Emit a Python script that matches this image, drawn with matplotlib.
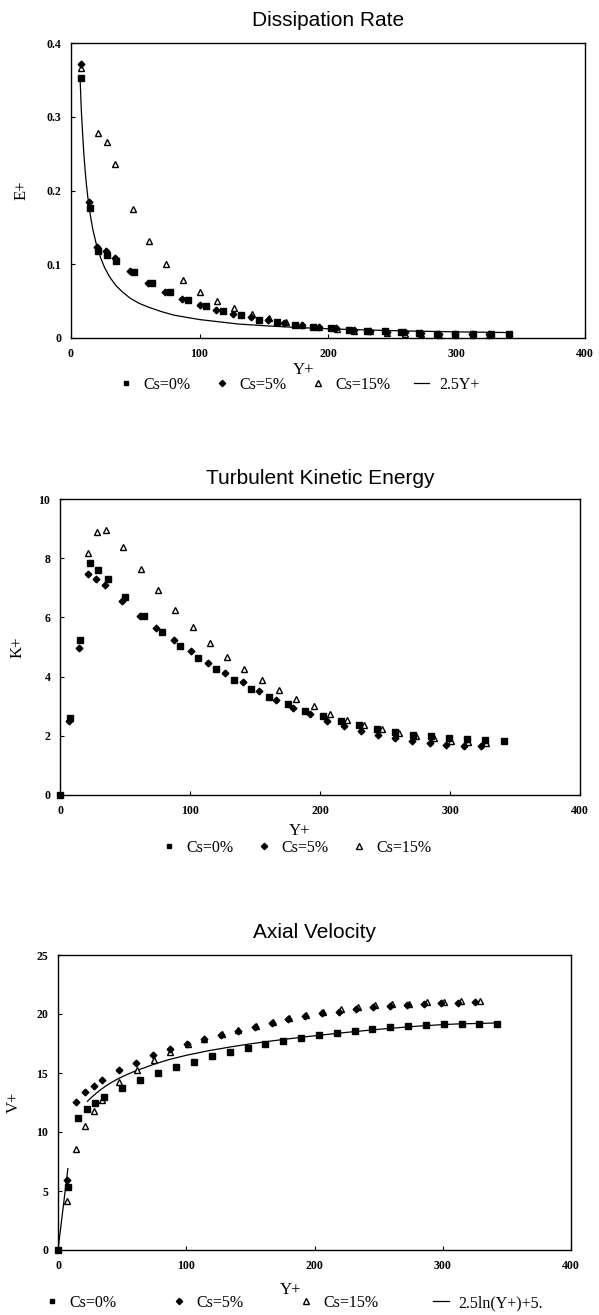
import matplotlib
matplotlib.use("Agg")
import matplotlib.pyplot as plt
from matplotlib.lines import Line2D

# ---------------- Data: Dissipation Rate ----------------
e_x0 = [8, 15, 21, 28, 35, 49, 63, 77, 91, 105, 118, 132, 146, 160, 174, 188, 202, 216, 230, 244, 257, 271, 285, 299, 313, 327, 341]
e_y0 = [0.352, 0.176, 0.118, 0.113, 0.105, 0.089, 0.074, 0.062, 0.051, 0.044, 0.036, 0.031, 0.025, 0.022, 0.018, 0.015, 0.013, 0.011, 0.010, 0.009, 0.008, 0.007, 0.006, 0.006, 0.005, 0.005, 0.005]
e_x5 = [8, 14, 20, 27, 34, 46, 60, 73, 86, 100, 113, 126, 140, 153, 166, 180, 193, 206, 220, 233, 246, 260, 272, 286, 299, 312, 325]
e_y5 = [0.371, 0.184, 0.124, 0.118, 0.109, 0.091, 0.075, 0.063, 0.053, 0.045, 0.038, 0.033, 0.028, 0.024, 0.021, 0.018, 0.015, 0.013, 0.011, 0.010, 0.0085, 0.0077, 0.0068, 0.006, 0.0059, 0.0054, 0.005]
e_x15 = [8, 21, 28, 34, 48, 61, 74, 87, 100, 114, 127, 141, 154, 167, 180, 193, 207, 220, 233, 246, 260, 272, 286, 299, 313, 325]
e_y15 = [0.366, 0.278, 0.266, 0.236, 0.175, 0.131, 0.100, 0.078, 0.062, 0.050, 0.041, 0.033, 0.027, 0.022, 0.018, 0.015, 0.012, 0.010, 0.009, 0.007, 0.006, 0.0054, 0.0045, 0.004, 0.0036, 0.0036]
e_lx = [7, 8, 9, 10, 11, 12, 13, 15, 17, 20, 23, 26, 30, 35, 40, 46, 53, 60, 70, 80, 90, 100, 115, 130, 150, 175, 200, 230, 260, 300, 340]
e_ly = [0.355, 0.31, 0.278, 0.25, 0.227, 0.208, 0.192, 0.167, 0.147, 0.125, 0.109, 0.096, 0.083, 0.071, 0.0625, 0.054, 0.047, 0.042, 0.036, 0.031, 0.028, 0.025, 0.022, 0.019, 0.0167, 0.0143, 0.0125, 0.0109, 0.0096, 0.0083, 0.0074]

# ---------------- Data: Turbulent Kinetic Energy ----------------
k_x0 = [0, 7.4, 15.4, 22.8, 29.6, 36.7, 50.3, 64.4, 78.3, 92, 106, 119.7, 133.6, 147, 161, 175, 188.6, 202.5, 216, 230, 243.9, 257.8, 271.4, 285, 299, 312.8, 326.7, 341.5]
k_y0 = [0, 2.6, 5.25, 7.83, 7.61, 7.31, 6.68, 6.06, 5.51, 5.05, 4.62, 4.24, 3.90, 3.59, 3.32, 3.06, 2.84, 2.67, 2.49, 2.36, 2.24, 2.13, 2.04, 1.99, 1.93, 1.89, 1.86, 1.83]
k_x5 = [6.8, 14.8, 21.6, 28, 34.6, 47.6, 61.2, 74.2, 87.8, 100.8, 113.8, 127, 140.4, 153, 166.4, 179.5, 192.5, 205.5, 218.2, 231.5, 244.8, 257.5, 271, 284.4, 297, 310.4, 323.7]
k_y5 = [2.5, 4.97, 7.45, 7.3, 7.08, 6.57, 6.06, 5.65, 5.23, 4.85, 4.47, 4.13, 3.82, 3.50, 3.21, 2.95, 2.72, 2.50, 2.32, 2.15, 2.03, 1.91, 1.82, 1.75, 1.70, 1.66, 1.64]
k_x15 = [21.9, 28.7, 35.5, 48.8, 62, 75.4, 88.7, 102, 115.3, 128.6, 141.9, 155.2, 168.5, 181.8, 195, 207.8, 221, 234, 247.6, 260.9, 274, 287.5, 300.9, 314, 327.6]
k_y15 = [8.17, 8.9, 8.96, 8.37, 7.63, 6.91, 6.26, 5.68, 5.14, 4.67, 4.24, 3.88, 3.55, 3.23, 2.99, 2.74, 2.54, 2.36, 2.22, 2.11, 2.00, 1.91, 1.84, 1.80, 1.75]

# ---------------- Data: Axial Velocity ----------------
v_x0 = [0, 7.7, 15.5, 22.3, 29.2, 35.7, 50, 64, 78, 92.3, 106.3, 120, 134, 148, 161.7, 175.7, 189.7, 203.4, 217.4, 231.4, 245, 259, 273, 286.8, 300.8, 314.8, 328.5, 342.5]
v_y0 = [0, 5.3, 11.22, 11.98, 12.49, 12.97, 13.73, 14.43, 14.99, 15.5, 15.95, 16.4, 16.77, 17.11, 17.42, 17.7, 17.98, 18.2, 18.4, 18.6, 18.74, 18.86, 18.97, 19.08, 19.14, 19.19, 19.17, 19.17]
v_x5 = [7.4, 14.3, 21.1, 28, 34.5, 47.7, 60.8, 74.2, 87.6, 100.7, 113.8, 126.9, 140, 153.4, 166.5, 179.6, 192.7, 206, 219, 232.3, 245.7, 259, 272, 285.3, 298.4, 311.8, 325]
v_y5 = [5.92, 12.54, 13.36, 13.9, 14.37, 15.22, 15.87, 16.49, 17.05, 17.47, 17.9, 18.26, 18.6, 18.88, 19.22, 19.56, 19.81, 20.07, 20.2, 20.4, 20.57, 20.7, 20.8, 20.86, 20.91, 20.97, 21.0]
v_x15 = [7.4, 14, 20.8, 27.7, 34.5, 47.7, 61.4, 74.5, 87.6, 101, 114, 127.5, 140.6, 154, 167.4, 180.5, 193.6, 207, 220.4, 233.8, 247.2, 260.6, 274, 287.4, 300.8, 314.2, 329]
v_y15 = [4.17, 8.6, 10.48, 11.75, 12.74, 14.23, 15.22, 16.07, 16.77, 17.42, 17.9, 18.32, 18.66, 19.02, 19.36, 19.67, 19.93, 20.15, 20.4, 20.57, 20.74, 20.86, 20.86, 21.0, 21.05, 21.13, 21.13]
v_lin_x = [0, 7.7]
v_lin_y = [0, 6.9]
v_log_x = [23, 25, 27, 30, 33, 37, 42, 48, 55, 61, 68, 75, 87, 100, 117, 134, 150, 164, 180, 194, 210, 223, 240, 253, 270, 283, 300, 312, 328, 342]
v_log_y = [12.6, 12.82, 13.02, 13.3, 13.56, 13.88, 14.22, 14.58, 14.93, 15.2, 15.47, 15.75, 16.15, 16.5, 16.88, 17.2, 17.47, 17.68, 17.9, 18.08, 18.27, 18.42, 18.6, 18.73, 18.88, 18.99, 19.1, 19.16, 19.2, 19.24]

# ---------------- Labels ----------------
titles = ["Dissipation Rate", "Turbulent Kinetic Energy", "Axial Velocity"]
ylabels = ["E+", "K+", "V+"]
xlabel = "Y+"
series_labels = ["Cs=0%", "Cs=5%", "Cs=15%"]
line_labels = ["2.5Y+", None, "2.5ln(Y+)+5."]
xticks = [0, 100, 200, 300, 400]
yticks_list = [[0, 0.1, 0.2, 0.3, 0.4], [0, 2, 4, 6, 8, 10], [0, 5, 10, 15, 20, 25]]
ytick_labels_list = [["0", "0.1", "0.2", "0.3", "0.4"], ["0", "2", "4", "6", "8", "10"], ["0", "5", "10", "15", "20", "25"]]

W, H = 599, 1315
fig = plt.figure(figsize=(W / 100, H / 100), dpi=100)

# axes rectangles in pixels: left, top, right, bottom
rects = [(71, 43, 585, 338), (60, 499, 580, 795), (58, 955, 571, 1250)]
title_off = [23, 21, 22]
xlab_pos = [(0.453, 24), (0.46, 28), (0.453, 32)]
ylab_right = [30, 26, 22]
legend_y = [385, 848, 1303]
legend_x = [118, 161, 44]
legend_colsp = [1.45, 1.4, 3.4]

serif = "Liberation Serif"
sans = "Liberation Sans"

sq = dict(marker="s", color="black", markersize=3.8, linestyle="none")
di = dict(marker="D", color="black", markersize=3.4, linestyle="none")
tr = dict(marker="^", markerfacecolor="white", markeredgecolor="black", markersize=5.0,
          markeredgewidth=1.0, linestyle="none")

datasets = [
    ((e_x0, e_y0), (e_x5, e_y5), (e_x15, e_y15)),
    ((k_x0, k_y0), (k_x5, k_y5), (k_x15, k_y15)),
    ((v_x0, v_y0), (v_x5, v_y5), (v_x15, v_y15)),
]
ylims = [(0, 0.4), (0, 10), (0, 25)]

for i in range(3):
    l, t, r, b = rects[i]
    ax = fig.add_axes([l / W, 1 - b / H, (r - l) / W, (b - t) / H])
    (x0, y0), (x5, y5), (x15, y15) = datasets[i]
    ax.plot(x15, y15, clip_on=False, zorder=3, **tr)
    ax.plot(x5, y5, clip_on=False, zorder=4, **di)
    ax.plot(x0, y0, clip_on=False, zorder=5, **sq)
    if i == 0:
        ax.plot(e_lx, e_ly, color="black", linewidth=0.9, zorder=2)
    if i == 2:
        ax.plot(v_lin_x, v_lin_y, color="black", linewidth=0.9, zorder=2)
        ax.plot(v_log_x, v_log_y, color="black", linewidth=0.9, zorder=2)
    ax.set_xlim(0, 400)
    ax.set_ylim(*ylims[i])
    ax.set_xticks(xticks)
    ax.set_xticklabels([str(v) for v in xticks], fontfamily=serif, fontweight="bold", fontsize=8.5)
    ax.set_yticks(yticks_list[i])
    ax.set_yticklabels(ytick_labels_list[i], fontfamily=serif, fontweight="bold", fontsize=8.5)
    ax.tick_params(direction="in", length=3, width=0.8, pad=7)
    for s in ax.spines.values():
        s.set_linewidth(1.0)
    ax.set_xlabel(xlabel, fontfamily=serif, fontsize=12)
    ax.xaxis.set_label_coords(xlab_pos[i][0], -xlab_pos[i][1] / (b - t))
    ax.set_ylabel(ylabels[i], fontfamily=serif, fontsize=12)
    ax.yaxis.set_label_coords(-(l - ylab_right[i]) / (r - l), 0.5)
    ax.text(0.5, 1 + title_off[i] / (b - t), titles[i], transform=ax.transAxes,
            ha="center", va="center", fontfamily=sans, fontsize=15)

    handles = [Line2D([], [], **{**sq, "markersize": 3.5}),
               Line2D([], [], **{**di, "markersize": 3.2}),
               Line2D([], [], **{**tr, "markersize": 4.0})]
    labels = list(series_labels)
    if line_labels[i]:
        handles.append(Line2D([], [], color="black", linewidth=0.9))
        labels.append(line_labels[i])
    fig.legend(handles, labels, ncol=len(handles), loc="center left",
               bbox_to_anchor=(legend_x[i] / W, 1 - legend_y[i] / H),
               frameon=False, handlelength=1.0, handletextpad=0.6,
               columnspacing=legend_colsp[i], borderpad=0, borderaxespad=0,
               prop={"family": serif, "size": 11.5})

fig.savefig("out.png", dpi=100)
